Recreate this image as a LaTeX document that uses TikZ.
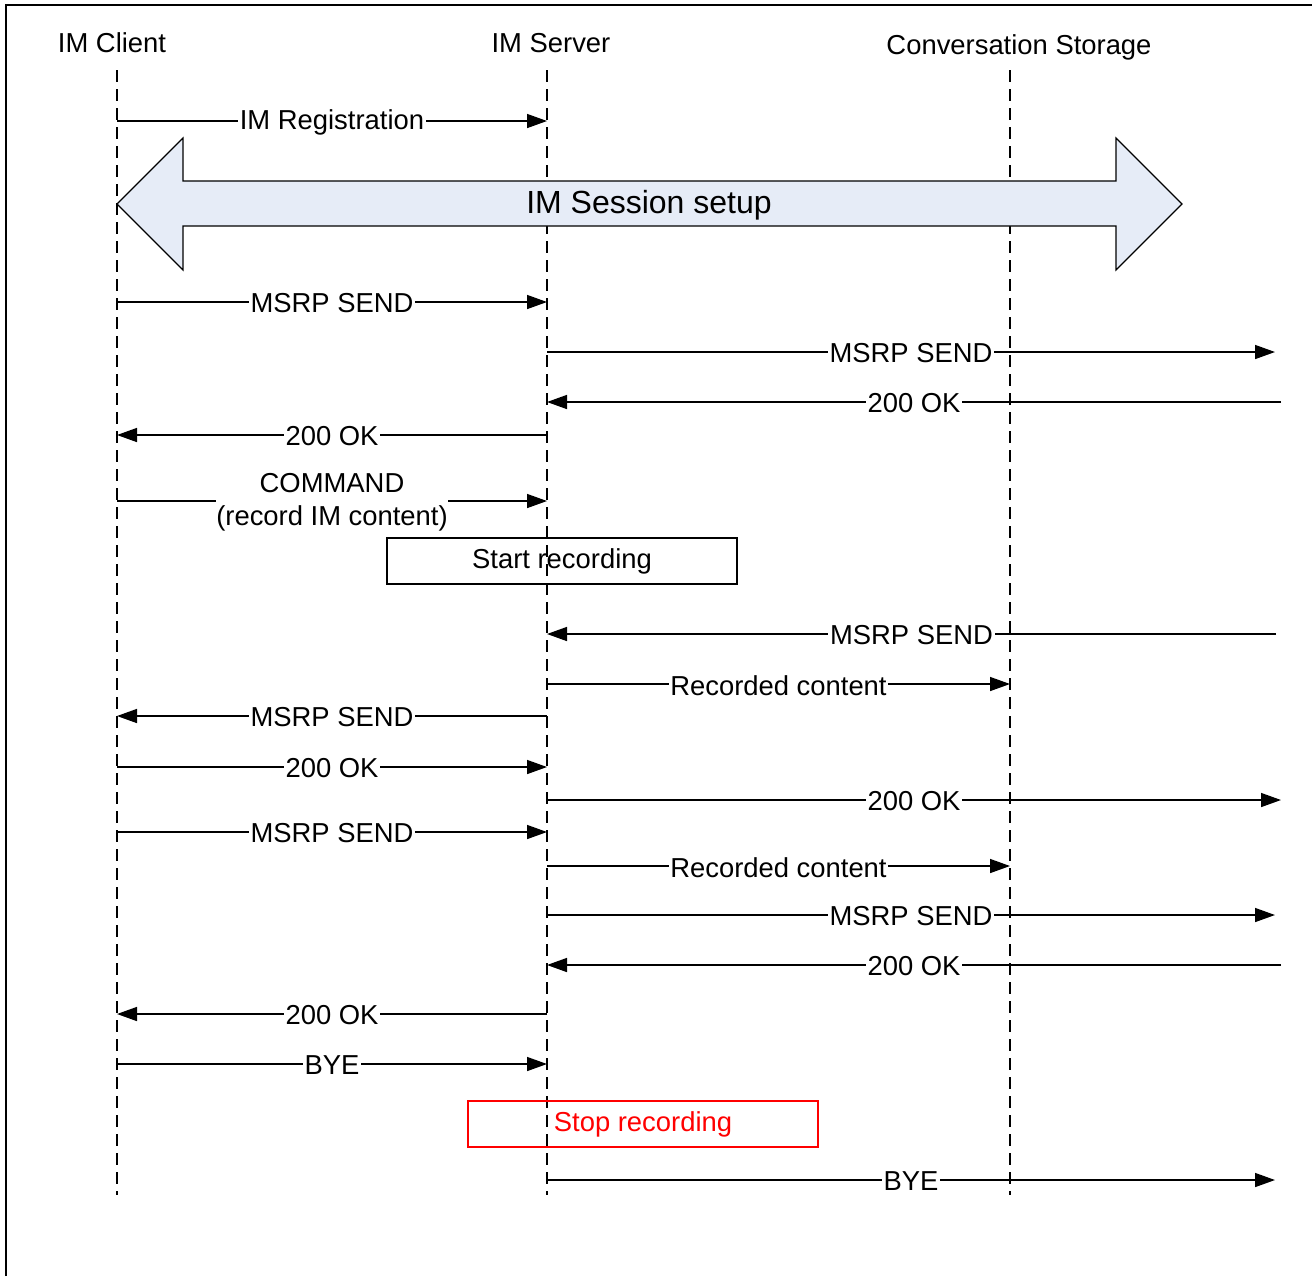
\documentclass[tikz,border=0pt]{standalone}
\usepackage{fontspec}
\setmainfont{Liberation Sans}
\usetikzlibrary{arrows.meta}
\definecolor{sessfill}{RGB}{230,236,247}
\tikzset{
  life/.style={line width=0.75pt, dash pattern=on 6pt off 3.5pt},
  msg/.style={line width=0.75pt, -{Triangle[length=10pt,width=7pt]}},
  lbl/.style={fill=white, inner sep=0.8pt, yshift=-0.6pt, font=\fontsize{13.7pt}{16.5pt}\selectfont},
  hdr/.style={yshift=-0.5pt, font=\fontsize{13.7pt}{16.5pt}\selectfont},
  actbox/.style={draw, line width=0.75pt, minimum width=175pt, minimum height=23pt, font=\fontsize{13.7pt}{16.5pt}\selectfont}
}
\newcommand{\mymsg}[5]{% name, y, x1, x2, text
  \coordinate (#1a) at (#3,#2);
  \coordinate (#1b) at (#4,#2);
  \draw[msg] (#1a) -- node[lbl] {#5} (#1b);
}
\begin{document}
\begin{tikzpicture}[x=0.5pt,y=-0.5pt]
\useasboundingbox (0,0) rectangle (1312,1276);
% frame
\draw[line width=1pt] (6,1276) -- (6,5) -- (1312,5);
% headers
\node[hdr] (hc) at (112,42) {IM Client};
\node[hdr] (hs) at (551,42) {IM Server};
\node[hdr] (hst) at (1019,46) {Conversation Storage};
% lifelines
\coordinate (ct) at (117,70); \coordinate (cb) at (117,1195);
\coordinate (st) at (547,70); \coordinate (sb) at (547,1195);
\coordinate (gt) at (1010,70); \coordinate (gb) at (1010,1195);
\draw[life] (ct) -- (cb);
\draw[life] (st) -- (sb);
\draw[life] (gt) -- (gb);
% big double arrow
\draw[line width=0.6pt, fill=sessfill]
  (117,204) -- (183,138) -- (183,181) -- (1116,181) -- (1116,138) -- (1182,204)
  -- (1116,270) -- (1116,226) -- (183,226) -- (183,270) -- cycle;
\node[yshift=-1pt, font=\fontsize{16pt}{19pt}\selectfont] (sess) at (649,203) {IM Session setup};
% boxes
\node[actbox] (start) at (562,561) {\raisebox{-1pt}{Start recording}};
\node[actbox, draw=red, text=red] (stop) at (643,1124) {\raisebox{-1pt}{Stop recording}};
% messages
\mymsg{m1}{121}{117}{547}{IM Registration}
\mymsg{m2}{302}{117}{547}{MSRP SEND}
\mymsg{m3}{352}{547}{1275}{MSRP SEND}
\mymsg{m4}{402}{1281}{547}{200 OK}
\mymsg{m5}{435}{547}{117}{200 OK}
\coordinate (m6a) at (117,501); \coordinate (m6b) at (547,501);
\draw[msg] (m6a) -- node[lbl, align=center, inner sep=0pt] {COMMAND\\(record IM content)} (m6b);
\mymsg{m7}{634}{1276}{547}{MSRP SEND}
\mymsg{m8}{684}{547}{1010}{Recorded content}
\mymsg{m9}{716}{547}{117}{MSRP SEND}
\mymsg{m10}{767}{117}{547}{200 OK}
\mymsg{m11}{800}{547}{1281}{200 OK}
\mymsg{m12}{832}{117}{547}{MSRP SEND}
\mymsg{m13}{866}{547}{1010}{Recorded content}
\mymsg{m14}{915}{547}{1275}{MSRP SEND}
\mymsg{m15}{965}{1281}{547}{200 OK}
\mymsg{m16}{1014}{547}{117}{200 OK}
\mymsg{m17}{1064}{117}{547}{BYE}
\mymsg{m18}{1180}{547}{1275}{BYE}
\end{tikzpicture}
\end{document}
